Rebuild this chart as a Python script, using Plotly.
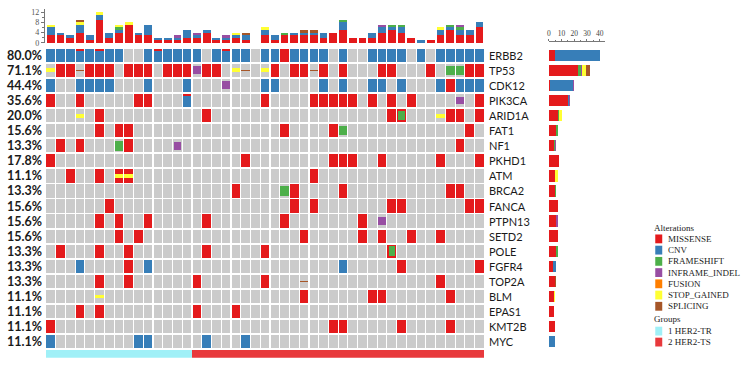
import plotly.graph_objects as go

# ---------------- data ----------------
genes = ["ERBB2", "TP53", "CDK12", "PIK3CA", "ARID1A", "FAT1", "NF1", "PKHD1", "ATM", "BRCA2",
         "FANCA", "PTPN13", "SETD2", "POLE", "FGFR4", "TOP2A", "BLM", "EPAS1", "KMT2B", "MYC"]
pct_labels = ["80.0%", "71.1%", "44.4%", "35.6%", "20.0%", "15.6%", "13.3%", "17.8%", "11.1%", "13.3%",
              "15.6%", "15.6%", "15.6%", "13.3%", "13.3%", "13.3%", "11.1%", "11.1%", "11.1%", "11.1%"]
# one string per gene, one character per sample (45 samples)
# M missense, C CNV, F frameshift, I inframe indel, U fusion, S stop gained, P splicing, . none
alteration_rows = [
    "CCCCCCCC..CCCCCC.CCCC.CCMCCCC.C..CCCC.C.CCCCC",  # ERBB2
    "SMMPMMM.MMM.MMMIMM.SP.SM.MMPM.M...MM...M.FFMM",  # TP53
    "C..CCCC...C...C...I...CC....C.C..CC.C...CMCCC",  # CDK12
    "M..M.....MM...C.......M....MMMMM.M.M.M....I.M",  # PIK3CA
    "...S.M..........M..................MF...SMM.M",  # ARID1A
    ".....M.MM...............M....MF............M.",  # FAT1
    ".M.M...FM....I............................M..",  # NF1
    "M...................M........MMM..M.....M...M",  # PKHD1
    "..M..M.MM..................M.................",  # ATM
    "...................M....FM....M..........MM..",  # BRCA2
    "......M..................M.M.......MM......MM",  # FANCA
    ".....M.M..M.....M.......M.......M.I..........",  # PTPN13
    ".......M.M................M.....M.M..M..M....",  # SETD2
    ".M...M..M.......M.....M............F.........",  # POLE
    "...C....M.C...................C.....M.......M",  # FGFR4
    ".....M..M......M......M...P.............M....",  # TOP2A
    ".....S....................M......MM......M...",  # BLM
    "...M.M.........M...M.........................",  # EPAS1
    "M............................MM.....M....M...",  # KMT2B
    "C........CC.....C...C........................",  # MYC
]
# second alteration in the same cell: (gene, sample, code)
secondary = [("ERBB2", 3, "M"), ("ERBB2", 5, "M"), ("ERBB2", 11, "M"), ("ERBB2", 18, "M"),
             ("PIK3CA", 14, "M"), ("ARID1A", 36, "M"), ("POLE", 35, "M"),
             ("ATM", 7, "S"), ("ATM", 8, "S")]
sample_groups = "111111111111111222222222222222222222222222222"

alt_codes = ["M", "C", "F", "I", "U", "S", "P"]
alt_names = ["MISSENSE", "CNV", "FRAMESHIFT", "INFRAME_INDEL", "FUSION", "STOP_GAINED", "SPLICING"]
alt_colors = ["#E41A1C", "#377EB8", "#4DAF4A", "#984EA3", "#FF7F00", "#FFFF33", "#A65628"]
group_names = ["1 HER2-TR", "2 HER2-TS"]
group_colors = ["#A0F0F7", "#E8393C"]
top_ticks = [0, 4, 8, 12]
right_ticks = [0, 10, 20, 30, 40]

# ---------------- layout helpers ----------------
W, H = 752, 367
def fx(px): return px / W
def fy(py): return 1 - py / H

GRID_X = (44.0, 483.6)
GRID_Y = (46.6, 354.0)
TOP_Y = (7.6, 41.7)
RIGHT_X = (548.3, 604.4)
GROUP_Y = (354.8, 362.6)
GRAY = "#CBCBCB"
CELL_W, CELL_H = 0.88, 0.88
shape_h = {"M": 0.88, "C": 0.88, "F": 0.64, "I": 0.52, "U": 0.6, "S": 0.26, "P": 0.1}
shape_w = {"M": 0.88, "C": 0.88, "F": 0.88, "I": 0.78, "U": 0.88, "S": 0.88, "P": 0.88}
col = dict(zip(alt_codes, alt_colors))
nS = len(alteration_rows[0])
nG = len(genes)

fig = go.Figure()

# background cells
bx, bb = [], []
for r in range(nG):
    for s in range(nS):
        bx.append(s); bb.append(r - CELL_H / 2)
fig.add_trace(go.Bar(x=bx, y=[CELL_H] * len(bx), base=bb, width=CELL_W, marker_color=GRAY,
                     marker_line_width=0, showlegend=False, hoverinfo="skip", xaxis="x", yaxis="y"))

sec_map = {}
for g, s, c in secondary:
    sec_map[(genes.index(g), s)] = c

layers = {c: {"x": [], "y": [], "base": [], "w": []} for c in alt_codes}
front = {c: {"x": [], "y": [], "base": [], "w": []} for c in alt_codes}
behind = {"x": [], "y": [], "base": [], "w": []}
for r in range(nG):
    for s in range(nS):
        c = alteration_rows[r][s]
        sc = sec_map.get((r, s))
        if sc == "M":
            behind["x"].append(s); behind["y"].append(CELL_H)
            behind["base"].append(r - CELL_H / 2); behind["w"].append(CELL_W)
        if c != ".":
            h = shape_h[c]; w = shape_w[c]
            base = r - h / 2
            if sc == "M" and c == "C":
                base = r - CELL_H / 2 + 0.14; h = CELL_H - 0.14
            elif sc == "M":
                w = 0.66; h = min(h, 0.66); base = r - h / 2
            L = layers[c]
            L["x"].append(s); L["y"].append(h); L["base"].append(base); L["w"].append(w)
        if sc is not None and sc != "M":
            h = shape_h[sc]
            F = front[sc]
            F["x"].append(s); F["y"].append(h); F["base"].append(r - h / 2); F["w"].append(shape_w[sc])

fig.add_trace(go.Bar(x=behind["x"], y=behind["y"], base=behind["base"], width=behind["w"],
                     marker_color=col["M"], marker_line_width=0, showlegend=False, hoverinfo="skip",
                     xaxis="x", yaxis="y"))
for c in alt_codes:
    L = layers[c]
    if L["x"]:
        fig.add_trace(go.Bar(x=L["x"], y=L["y"], base=L["base"], width=L["w"], marker_color=col[c],
                             marker_line_width=0, showlegend=False, hoverinfo="skip", xaxis="x", yaxis="y"))
for c in alt_codes:
    F = front[c]
    if F["x"]:
        fig.add_trace(go.Bar(x=F["x"], y=F["y"], base=F["base"], width=F["w"], marker_color=col[c],
                             marker_line_width=0, showlegend=False, hoverinfo="skip", xaxis="x", yaxis="y"))

def cell_codes(r, s):
    out = []
    if alteration_rows[r][s] != ".":
        out.append(alteration_rows[r][s])
    if (r, s) in sec_map:
        out.append(sec_map[(r, s)])
    return out

sample_counts = {c: [0] * nS for c in alt_codes}
gene_counts = {c: [0] * nG for c in alt_codes}
for r in range(nG):
    for s in range(nS):
        for c in cell_codes(r, s):
            sample_counts[c][s] += 1
            gene_counts[c][r] += 1

# top stacked bars
cum = [0] * nS
for c in alt_codes:
    vals = sample_counts[c]
    if sum(vals) == 0:
        continue
    fig.add_trace(go.Bar(x=list(range(nS)), y=vals, base=cum[:], width=0.8, marker_color=col[c],
                         marker_line_width=0, showlegend=False, hoverinfo="skip", xaxis="x2", yaxis="y2"))
    cum = [a + b for a, b in zip(cum, vals)]

# right stacked bars
cumg = [0] * nG
for c in alt_codes:
    vals = gene_counts[c]
    if sum(vals) == 0:
        continue
    fig.add_trace(go.Bar(y=list(range(nG)), x=vals, base=cumg[:], width=0.76, orientation="h",
                         marker_color=col[c], marker_line_width=0, showlegend=False, hoverinfo="skip",
                         xaxis="x3", yaxis="y3"))
    cumg = [a + b for a, b in zip(cumg, vals)]

# group bar
gcols = [group_colors[int(g) - 1] for g in sample_groups]
fig.add_trace(go.Bar(x=list(range(nS)), y=[1] * nS, width=1.0, marker_color=gcols, marker_line_width=0,
                     showlegend=False, hoverinfo="skip", xaxis="x4", yaxis="y4"))

ann = []
for r in range(nG):
    ann.append(dict(x=fx(3), xref="paper", y=r, yref="y", text=pct_labels[r], showarrow=False,
                    xanchor="left", yanchor="middle",
                    font=dict(family="Lato", size=12.5, color="#1a1a1a", weight="bold")))
    ann.append(dict(x=fx(486), xref="paper", y=r, yref="y", text=genes[r], showarrow=False,
                    xanchor="left", yanchor="middle",
                    font=dict(family="Lato", size=11, color="#1a1a1a")))

SERIF = "Liberation Serif"
shapes = []
ann.append(dict(x=fx(652), xref="paper", y=fy(230), yref="paper", text="Alterations", showarrow=False,
                xanchor="left", yanchor="middle", font=dict(family=SERIF, size=9, color="#222")))
leg_y0 = 241.5
for i, (nm, cc) in enumerate(zip(alt_names, alt_colors)):
    yc = leg_y0 + i * 11.45
    shapes.append(dict(type="rect", xref="paper", yref="paper", x0=fx(655), x1=fx(662),
                       y0=fy(yc + 4.5), y1=fy(yc - 4.5), fillcolor=cc, line_width=0))
    ann.append(dict(x=fx(665.5), xref="paper", y=fy(yc), yref="paper", text=nm, showarrow=False,
                    xanchor="left", yanchor="middle", font=dict(family=SERIF, size=9, color="#222")))
ann.append(dict(x=fx(652), xref="paper", y=fy(323.5), yref="paper", text="Groups", showarrow=False,
                xanchor="left", yanchor="middle", font=dict(family=SERIF, size=9, color="#222")))
for i, (nm, cc) in enumerate(zip(group_names, group_colors)):
    yc = 335.5 + i * 11.2
    shapes.append(dict(type="rect", xref="paper", yref="paper", x0=fx(655), x1=fx(662),
                       y0=fy(yc + 4.5), y1=fy(yc - 4.5), fillcolor=cc, line_width=0))
    ann.append(dict(x=fx(665.5), xref="paper", y=fy(yc), yref="paper", text=nm, showarrow=False,
                    xanchor="left", yanchor="middle", font=dict(family=SERIF, size=9, color="#222")))

hidden = dict(visible=False)
fig.update_layout(
    width=W, height=H, margin=dict(l=0, r=0, t=0, b=0),
    paper_bgcolor="white", plot_bgcolor="rgba(0,0,0,0)",
    barmode="overlay", bargap=0, showlegend=False,
    xaxis=dict(domain=[fx(GRID_X[0]), fx(GRID_X[1])], range=[-0.5, nS - 0.5], **hidden),
    yaxis=dict(domain=[fy(GRID_Y[1]), fy(GRID_Y[0])], range=[nG - 0.5, -0.5], **hidden),
    xaxis2=dict(domain=[fx(GRID_X[0]), fx(GRID_X[1])], range=[-0.5, nS - 0.5], anchor="y2", **hidden),
    yaxis2=dict(domain=[fy(TOP_Y[1]), fy(TOP_Y[0])], range=[0, 13], anchor="free", position=fx(42.5),
                tickvals=top_ticks, ticks="outside", ticklen=3.5, tickwidth=1, tickcolor="#777",
                showline=True, linecolor="#777", linewidth=1, showgrid=False, zeroline=False,
                minor=dict(tickvals=[2, 6, 10], ticks="outside", ticklen=2.5, tickcolor="#777"),
                tickfont=dict(family=SERIF, size=8, color="#555")),
    xaxis3=dict(domain=[fx(RIGHT_X[0]), fx(RIGHT_X[1])], range=[0, 44], side="top", anchor="free",
                position=fy(40), tickvals=right_ticks, ticks="outside", ticklen=2.5, tickcolor="#777",
                showline=True, linecolor="#777", linewidth=1, showgrid=False, zeroline=False,
                minor=dict(tickvals=[5, 15, 25, 35], ticks="outside", ticklen=1.5, tickcolor="#777"),
                tickfont=dict(family=SERIF, size=7.5, color="#444")),
    yaxis3=dict(domain=[fy(GRID_Y[1]), fy(GRID_Y[0])], range=[nG - 0.5, -0.5], anchor="x3", **hidden),
    xaxis4=dict(domain=[fx(GRID_X[0]), fx(GRID_X[1])], range=[-0.5, nS - 0.5], anchor="y4", **hidden),
    yaxis4=dict(domain=[fy(GROUP_Y[1]), fy(GROUP_Y[0])], range=[0, 1], anchor="x4", **hidden),
    annotations=ann, shapes=shapes,
)

fig.write_html("out.html", config={"displayModeBar": False, "staticPlot": True})
# remove the default page margin so the figure sits at the window origin
with open("out.html", "r", encoding="utf-8") as f:
    html = f.read()
html = html.replace("<head>", "<head><style>html,body{margin:0;padding:0;overflow:hidden;}</style>", 1)
with open("out.html", "w", encoding="utf-8") as f:
    f.write(html)
